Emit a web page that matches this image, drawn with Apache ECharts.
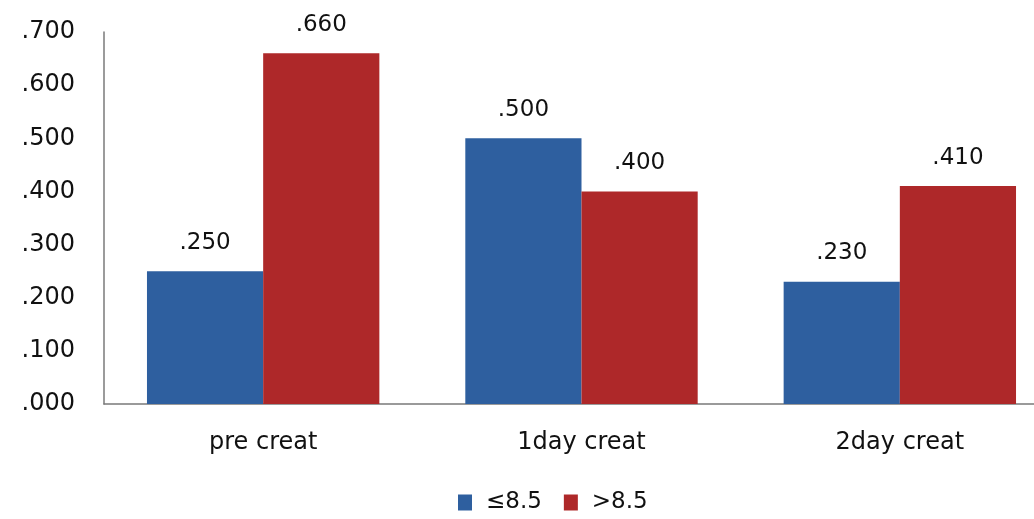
<!DOCTYPE html>
<html>
<head>
<meta charset="utf-8">
<script src="https://cdn.jsdelivr.net/npm/echarts@6/dist/echarts.min.js"></script>
<style>
  html, body { margin: 0; padding: 0; background: #ffffff; overflow: hidden; }
  #chart { width: 1059px; height: 519px; }
</style>
</head>
<body>
<div id="chart"></div>
<script>
// Creatinine groups and the two cut-off series
const categories = ['pre creat', '1day creat', '2day creat'];
const seriesNames = ['\u22648.5', '>8.5'];
const lowValues = [0.25, 0.50, 0.23];
const highValues = [0.66, 0.40, 0.41];
const yTicks = { min: 0, max: 0.7, interval: 0.1 };

const FONT = '"DejaVu Sans", Verdana, sans-serif';
const TEXT = '#111111';
const AXIS = '#7a7a7a';

// ".250" style: three decimals, no leading zero
const fmt = v => v.toFixed(3).replace(/^0/, '');

const chart = echarts.init(document.getElementById('chart'), null, { renderer: 'canvas' });

const barLabel = {
  show: true,
  position: 'top',
  distance: 17,
  color: TEXT,
  fontFamily: FONT,
  fontSize: 23,
  formatter: p => fmt(p.value)
};

chart.setOption({
  backgroundColor: '#ffffff',
  animation: false,
  legend: {
    bottom: 0,
    left: 453,
    itemWidth: 14,
    itemHeight: 16,
    itemGap: 22,
    icon: 'rect',
    textStyle: { color: TEXT, fontFamily: FONT, fontSize: 23, padding: [0, 0, 0, 9] },
    data: seriesNames
  },
  grid: { left: 104, top: 32, bottom: 115, right: 0 },
  xAxis: {
    type: 'category',
    data: categories,
    axisLine: { show: true, lineStyle: { color: AXIS, width: 1.5 } },
    axisTick: { show: false },
    axisLabel: { color: TEXT, fontFamily: FONT, fontSize: 24, margin: 27 }
  },
  yAxis: {
    type: 'value',
    min: yTicks.min,
    max: yTicks.max,
    interval: yTicks.interval,
    axisLine: { show: true, lineStyle: { color: AXIS, width: 1.5 } },
    axisTick: { show: false },
    splitLine: { show: false },
    axisLabel: { color: TEXT, fontFamily: FONT, fontSize: 24, margin: 29, formatter: fmt }
  },
  series: [
    {
      name: seriesNames[0],
      type: 'bar',
      data: lowValues,
      barGap: '0%',
      barCategoryGap: '27%',
      itemStyle: { color: '#2e5f9f' },
      label: barLabel
    },
    {
      name: seriesNames[1],
      type: 'bar',
      data: highValues,
      barGap: '0%',
      barCategoryGap: '27%',
      itemStyle: { color: '#ae2829' },
      label: barLabel
    }
  ]
});
</script>
</body>
</html>
